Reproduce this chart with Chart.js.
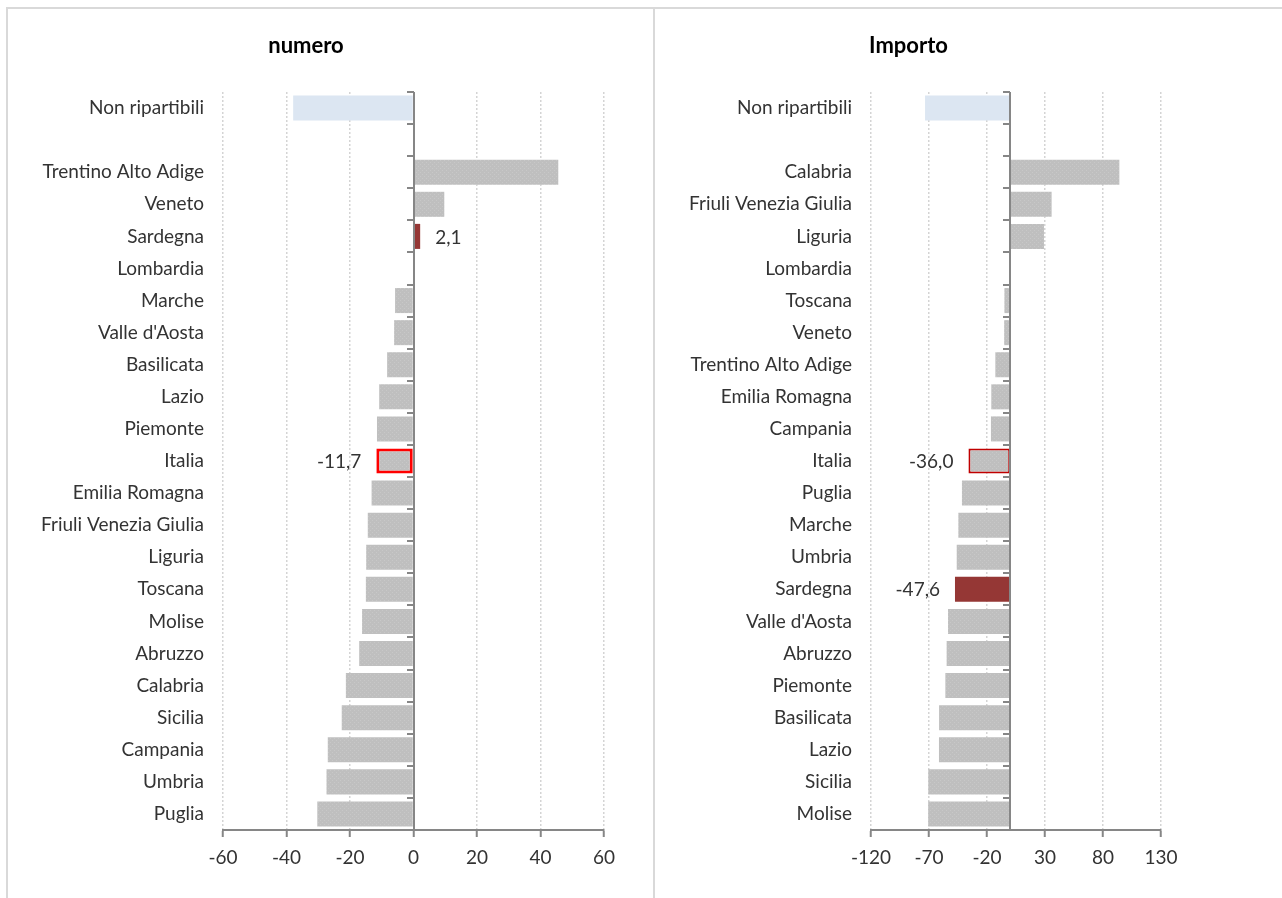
<!DOCTYPE html>
<html lang="it">
<head>
<meta charset="utf-8">
<title>numero / Importo</title>
<script src="https://cdn.jsdelivr.net/npm/chart.js@4.4.1/dist/chart.umd.min.js"></script>
<style>
  html, body { margin: 0; padding: 0; background: #ffffff; }
  body { width: 1282px; height: 898px; position: relative; overflow: hidden; }
  .box { position: absolute; top: 0; height: 898px; }
  #boxLeft { left: 8px; width: 640px; }
  #boxRight { left: 656px; width: 558px; }
  .frame { position: absolute; background: #d9d9d9; }
  #frameTop { left: 6px; top: 7px; width: 1276px; height: 2px; }
  #frameLeft { left: 6px; top: 7px; width: 2px; height: 891px; }
  #frameMid { left: 653px; top: 7px; width: 2px; height: 891px; }
</style>
</head>
<body>
<div class="frame" id="frameTop"></div>
<div class="frame" id="frameLeft"></div>
<div class="frame" id="frameMid"></div>
<div class="box" id="boxLeft"><canvas id="chartNumero"></canvas></div>
<div class="box" id="boxRight"><canvas id="chartImporto"></canvas></div>

<script>
// ---- numero: variazione per regione ----
const numeroLabels = [
  'Non ripartibili', '',
  'Trentino Alto Adige', 'Veneto', 'Sardegna', 'Lombardia', 'Marche',
  "Valle d'Aosta", 'Basilicata', 'Lazio', 'Piemonte', 'Italia',
  'Emilia Romagna', 'Friuli Venezia Giulia', 'Liguria', 'Toscana', 'Molise',
  'Abruzzo', 'Calabria', 'Sicilia', 'Campania', 'Umbria', 'Puglia'
];
const numeroValues = [
  -37.9, null,
  45.6, 9.7, 2.1, 0, -5.8,
  -6.1, -8.3, -10.8, -11.5, -11.7,
  -13.2, -14.4, -14.9, -15.0, -16.2,
  -17.1, -21.3, -22.6, -27.0, -27.4, -30.3
];
const numeroTicks = { min: -60, max: 60, step: 20 };

// ---- Importo: variazione per regione ----
const importoLabels = [
  'Non ripartibili', '',
  'Calabria', 'Friuli Venezia Giulia', 'Liguria', 'Lombardia', 'Toscana',
  'Veneto', 'Trentino Alto Adige', 'Emilia Romagna', 'Campania', 'Italia',
  'Puglia', 'Marche', 'Umbria', 'Sardegna', "Valle d'Aosta",
  'Abruzzo', 'Piemonte', 'Basilicata', 'Lazio', 'Sicilia', 'Molise'
];
const importoValues = [
  -73.4, null,
  94.1, 35.7, 29.1, 0, -5.0,
  -5.2, -12.8, -16.3, -16.6, -36.0,
  -41.6, -44.7, -46.1, -47.6, -53.6,
  -54.8, -55.9, -61.3, -61.4, -70.6, -70.7
];
const importoTicks = { min: -120, max: 130, step: 50 };

// regions whose value is written next to the bar
const labelledRegions = ['Sardegna', 'Italia'];

const FONT = "Lato, 'Open Sans', 'Liberation Sans', sans-serif";
const FONT_SIZE = 19;
const TEXT = '#333333';
const AXIS = '#868686';

// light stippled grey fill for the regular bars
function stipple() {
  const c = document.createElement('canvas');
  c.width = 4; c.height = 4;
  const g = c.getContext('2d');
  g.fillStyle = '#bfbfbf';
  g.fillRect(0, 0, 4, 4);
  g.fillStyle = '#c8c8c8';
  g.fillRect(0, 0, 1, 1);
  g.fillRect(2, 2, 1, 1);
  return g.createPattern(c, 'repeat');
}
const GREY = stipple();

function barColors(labels) {
  return labels.map(l => l === 'Non ripartibili' ? '#dce6f2'
                       : l === 'Sardegna' ? '#953735' : GREY);
}

// vertical axis through zero with category tick marks, plus value labels
const zeroAxisPlugin = {
  id: 'zeroAxis',
  afterDatasetsDraw(chart) {
    const { ctx } = chart;
    const xs = chart.scales.x, ys = chart.scales.y;
    const x0 = Math.round(xs.getPixelForValue(0));
    const n = chart.data.labels.length;
    const step = (ys.bottom - ys.top) / n;
    ctx.save();
    ctx.strokeStyle = AXIS;
    ctx.lineWidth = 2;
    ctx.beginPath();
    ctx.moveTo(x0, ys.top);
    ctx.lineTo(x0, ys.bottom);
    for (let i = 0; i < n; i++) {
      const y = Math.round(ys.top + i * step);
      ctx.moveTo(x0 - 7, y);
      ctx.lineTo(x0, y);
    }
    ctx.stroke();

    // value labels
    const meta = chart.getDatasetMeta(0);
    const values = chart.data.datasets[0].data;
    ctx.font = FONT_SIZE + 'px ' + FONT;
    ctx.fillStyle = TEXT;
    ctx.textBaseline = 'middle';
    chart.data.labels.forEach((lab, i) => {
      if (!labelledRegions.includes(lab)) return;
      const v = values[i];
      const el = meta.data[i];
      const txt = v.toFixed(1).replace('.', ',');
      if (v < 0) {
        ctx.textAlign = 'right';
        ctx.fillText(txt, el.x - 15, el.y + 1);
      } else {
        ctx.textAlign = 'left';
        ctx.fillText(txt, el.x + 15, el.y + 1);
      }
    });
    ctx.restore();
  }
};

function makeChart(id, title, labels, values, ticks, italiaBorder, italiaBorderWidth, padRight) {
  const borderColors = labels.map(l => l === 'Italia' ? italiaBorder : 'rgba(0,0,0,0)');
  const borderWidths = labels.map(l => l === 'Italia' ? italiaBorderWidth : 0);
  return new Chart(document.getElementById(id), {
    type: 'bar',
    data: {
      labels: labels,
      datasets: [{
        data: values,
        backgroundColor: barColors(labels),
        borderColor: borderColors,
        borderWidth: borderWidths,
        borderSkipped: false,
        barPercentage: 0.78,
        categoryPercentage: 1.0
      }]
    },
    options: {
      indexAxis: 'y',
      responsive: true,
      maintainAspectRatio: false,
      animation: false,
      layout: { padding: { left: 0, right: padRight, top: 0, bottom: 0 } },
      plugins: {
        legend: { display: false },
        tooltip: { enabled: false },
        title: {
          display: true,
          text: title,
          color: '#000000',
          font: { family: FONT, size: 22, weight: 'bold' },
          padding: { top: 33, bottom: 32.6 }
        }
      },
      scales: {
        x: {
          type: 'linear',
          min: ticks.min,
          max: ticks.max,
          ticks: {
            stepSize: ticks.step,
            color: TEXT,
            font: { family: FONT, size: FONT_SIZE },
            padding: 9,
            callback: v => String(v)
          },
          grid: {
            color: '#d4d4d4',
            lineWidth: 1.5,
            drawTicks: true,
            tickLength: 7,
            tickColor: AXIS,
            tickWidth: 2,
            tickBorderDash: []
          },
          border: { display: true, color: AXIS, width: 2, dash: [2, 2] },
          afterFit(scale) { scale.height = 68; }
        },
        y: {
          type: 'category',
          offset: true,
          ticks: {
            color: TEXT,
            font: { family: FONT, size: FONT_SIZE },
            padding: 19,
            autoSkip: false
          },
          grid: { display: false, drawTicks: false },
          border: { display: false },
          afterFit(scale) { scale.width = 215; }
        }
      }
    },
    plugins: [zeroAxisPlugin]
  });
}

makeChart('chartNumero', 'numero', numeroLabels, numeroValues, numeroTicks, '#ff0000', 3, 44);
makeChart('chartImporto', 'Importo', importoLabels, importoValues, importoTicks, '#c00000', 2, 53);
</script>
</body>
</html>
